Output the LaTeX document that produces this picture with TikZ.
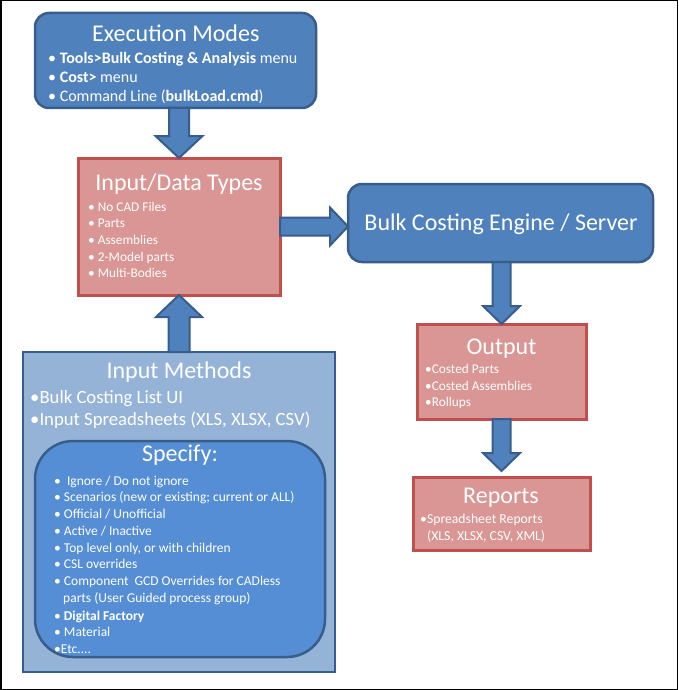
\documentclass[tikz,border=0pt]{standalone}
\usepackage{fontspec}
\setmainfont{Carlito}
\usetikzlibrary{calc}
\definecolor{bfill}{HTML}{4F81BD}
\definecolor{bline}{HTML}{385D8A}
\definecolor{pfill}{HTML}{D99694}
\definecolor{pline}{HTML}{C0504D}
\definecolor{lfill}{HTML}{95B3D7}
\definecolor{sfill}{HTML}{558ED5}
\tikzset{
  boxbase/.style={inner sep=0pt, outer sep=0pt, anchor=north west},
  bluebox/.style={boxbase, draw=bline, fill=bfill, line width=2.5pt, rounded corners=14pt},
  pinkbox/.style={boxbase, draw=pline, fill=pfill, line width=3pt},
  lightbox/.style={boxbase, draw=bline, fill=lfill, line width=2.5pt},
  specbox/.style={boxbase, draw=bline, fill=sfill, line width=2.5pt, rounded corners=38pt},
  title/.style={text=white, font=\fontsize{24}{28}\selectfont, anchor=base, inner sep=0pt},
  item/.style={text=white, anchor=base west, inner sep=0pt},
  barrow/.style={draw=bline, fill=bfill, line width=2pt, line join=miter},
}
\newcommand\blockarr[5]{%
  \path ($(#2)!#5!(#1)$) coordinate (hb);
  \draw[barrow] ($(#1)!#3!90:(#2)$) -- ($(hb)!#3!90:(#2)$) -- ($(hb)!#4!90:(#2)$) -- (#2)
    -- ($(hb)!#4!-90:(#2)$) -- ($(hb)!#3!-90:(#2)$) -- ($(#1)!#3!-90:(#2)$) -- cycle;}
\begin{document}
\begin{tikzpicture}[x=1pt,y=-1pt]
\useasboundingbox (0,0) rectangle (678,690);
\fill[white] (0,0) rectangle (678,690);
% boxes
\node[bluebox, minimum width=281pt, minimum height=95pt] (exec) at (35,13) {};
\node[pinkbox, minimum width=202pt, minimum height=137pt] (idt) at (78,158) {};
\node[bluebox, minimum width=305pt, minimum height=78pt] (eng) at (348,184) {};
\node[pinkbox, minimum width=169pt, minimum height=95pt] (out) at (417,324) {};
\node[pinkbox, minimum width=177pt, minimum height=73pt] (rep) at (413,477) {};
\node[lightbox, minimum width=312pt, minimum height=320pt] (im) at (23,352) {};
\node[specbox, minimum width=290pt, minimum height=216pt] (spec) at (35,441) {};
% arrows
\coordinate (a1s) at (idt.north |- exec.south);
\blockarr{a1s}{idt.north}{10pt}{23.5pt}{22pt}
\blockarr{im.north}{idt.south}{10.5pt}{23pt}{22pt}
\coordinate (a3e) at (eng.west |- idt.east);
\blockarr{idt.east}{a3e}{9pt}{19pt}{18pt}
\coordinate (a4s) at (out.north |- eng.south);
\blockarr{a4s}{out.north}{9pt}{18.5pt}{18pt}
\coordinate (a5e) at ($(rep.north)+(0,-6)$);
\blockarr{out.south}{a5e}{9pt}{18.5pt}{18pt}
% Execution Modes
\node[title] (t1) at (175.8,41.7) {Execution Modes};
\begin{scope}[every node/.style={item, font=\fontsize{16}{19}\selectfont}]
\node (e1) at (48,63.5) {• \textbf{Tools>Bulk Costing \& Analysis} menu};
\node (e2) at (48,82.5) {• \textbf{Cost>} menu};
\node (e3) at (48,101.5) {• Command Line (\textbf{bulkLoad.cmd})};
\end{scope}
% Input/Data Types
\node[title] (t2) at (179,190.7) {Input/Data Types};
\begin{scope}[every node/.style={item, font=\fontsize{13.3}{16}\selectfont}]
\node (d1) at (88,211) {• No CAD Files};
\node (d2) at (88,227.6) {• Parts};
\node (d3) at (88,244.3) {• Assemblies};
\node (d4) at (88,261) {• 2-Model parts};
\node (d5) at (88,277.6) {• Multi-Bodies};
\end{scope}
% Engine
\node[title] (t3) at (501,230.5) {Bulk Costing Engine / Server};
% Output
\node[title] (t4) at (501.5,354) {Output};
\begin{scope}[every node/.style={item, font=\fontsize{13.3}{16}\selectfont}]
\node (o1) at (425,373.3) {•Costed Parts};
\node (o2) at (425,390) {•Costed Assemblies};
\node (o3) at (425,406.7) {•Rollups};
\end{scope}
% Reports
\node[title] (t5) at (501,503.3) {Reports};
\begin{scope}[every node/.style={item, font=\fontsize{13.7}{16}\selectfont}]
\node (r1) at (420,523.5) {•Spreadsheet Reports};
\node (r2) at (427,540.5) {(XLS, XLSX, CSV, XML)};
\end{scope}
% Input Methods
\node[title] (t6) at (179,378.3) {Input Methods};
\begin{scope}[every node/.style={item, font=\fontsize{18.7}{22}\selectfont}]
\node (m1) at (30,403.3) {•Bulk Costing List UI};
\node (m2) at (30,425) {•Input Spreadsheets (XLS, XLSX, CSV)};
\end{scope}
% Specify
\node[title] (t7) at (180,461.7) {Specify:};
\begin{scope}[every node/.style={item, font=\fontsize{13.5}{16}\selectfont}]
\node (s1) at (54,485.2) {• \ Ignore / Do not ignore};
\node (s2) at (54,501.8) {• Scenarios (new or existing; current or ALL)};
\node (s3) at (54,518.5) {• Official / Unofficial};
\node (s4) at (54,535.5) {• Active / Inactive};
\node (s5) at (54,552.2) {• Top level only, or with children};
\node (s6) at (54,568.8) {• CSL overrides};
\node (s7) at (54,585.5) {• Component\ \ GCD Overrides for CADless};
\node (s8) at (63,602.2) {parts (User Guided process group)};
\node (s9) at (54,620.5) {• \textbf{Digital Factory}};
\node (s10) at (54,636.8) {• Material};
\node (s11) at (54,653.5) {•Etc....};
\end{scope}
% frame
\draw[line width=1.5pt] (0.75,0.75) rectangle (677.25,689.25);
\end{tikzpicture}
\end{document}
